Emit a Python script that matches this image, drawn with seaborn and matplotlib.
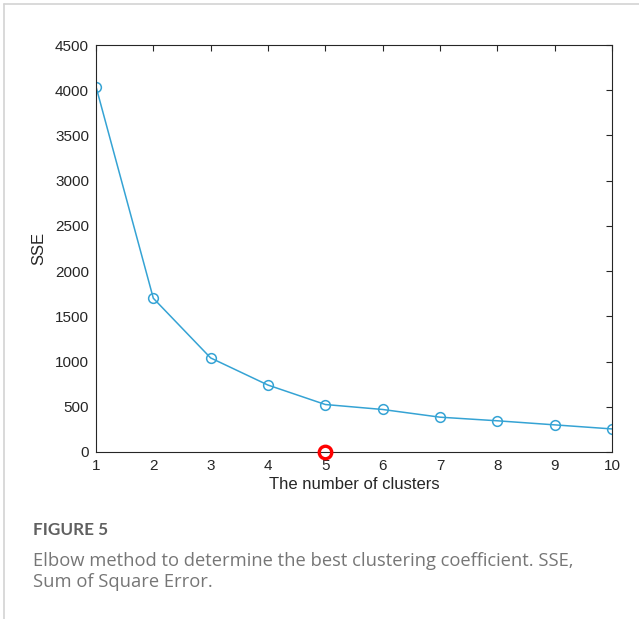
import numpy as np
import pandas as pd
import matplotlib
matplotlib.use('Agg')
import matplotlib.pyplot as plt
from matplotlib.lines import Line2D
import seaborn as sns

####
#   Data
####
clusters = [1, 2, 3, 4, 5, 6, 7, 8, 9, 10]
sse = [4040, 1700, 1040, 740, 525, 470, 385, 345, 300, 255]
best_k = [5]
best_mark = [0]

df = pd.DataFrame({'k': clusters, 'SSE': sse})

sns.set_style('white')
plt.rcParams['font.family'] = ['Liberation Sans', 'DejaVu Sans']

fig = plt.figure(figsize=(6.39, 6.19), dpi=100)
ax = fig.add_axes([0.1502, 0.2698, 0.8075, 0.6575])

line_col = '#35a3d4'
sns.lineplot(data=df, x='k', y='SSE', ax=ax, color=line_col, linewidth=1.1,
             marker='o', markersize=7, markerfacecolor='none',
             markeredgecolor=line_col, markeredgewidth=1.1)
ax.plot(best_k, best_mark, linestyle='none', marker='o', markersize=9,
        markerfacecolor='none', markeredgecolor='#ff0000',
        markeredgewidth=2.4, clip_on=False, zorder=5)

ax.set_xlim(1, 10)
ax.set_ylim(0, 4500)
ax.set_xticks(clusters)
ax.set_yticks(np.arange(0, 4501, 500))

ax.tick_params(direction='in', length=4, width=0.8, colors='#262626',
               labelsize=11, top=True, right=True, pad=5)
for s in ax.spines.values():
    s.set_visible(True)
    s.set_color('#262626')
    s.set_linewidth(0.8)

ax.set_xlabel('The number of clusters', fontsize=12, color='#262626', labelpad=3)
ax.set_ylabel('SSE', fontsize=12, color='#262626', labelpad=6)

# caption
cap_font = ['Open Sans', 'DejaVu Sans']
fig.text(33/639, 1-530/619, 'FIGURE 5', fontsize=12.3, color='#606060',
         family=['Lato', 'DejaVu Sans'], weight='bold', va='center', ha='left')
fig.text(33/639, 1-561/619,
         'Elbow method to determine the best clustering coefficient. SSE,',
         fontsize=13.2, color='#767676', family=cap_font,
         va='center', ha='left')
fig.text(33/639, 1-582/619, 'Sum of Square Error.',
         fontsize=13.2, color='#767676', family=cap_font,
         va='center', ha='left')

# card frame
fig.add_artist(Line2D([4/639, 1], [1-4/619, 1-4/619], color='#d3d3d3', linewidth=1.2))
fig.add_artist(Line2D([4/639, 4/639], [0, 1-4/619], color='#d3d3d3', linewidth=1.2))

fig.savefig('out.png', dpi=100)
